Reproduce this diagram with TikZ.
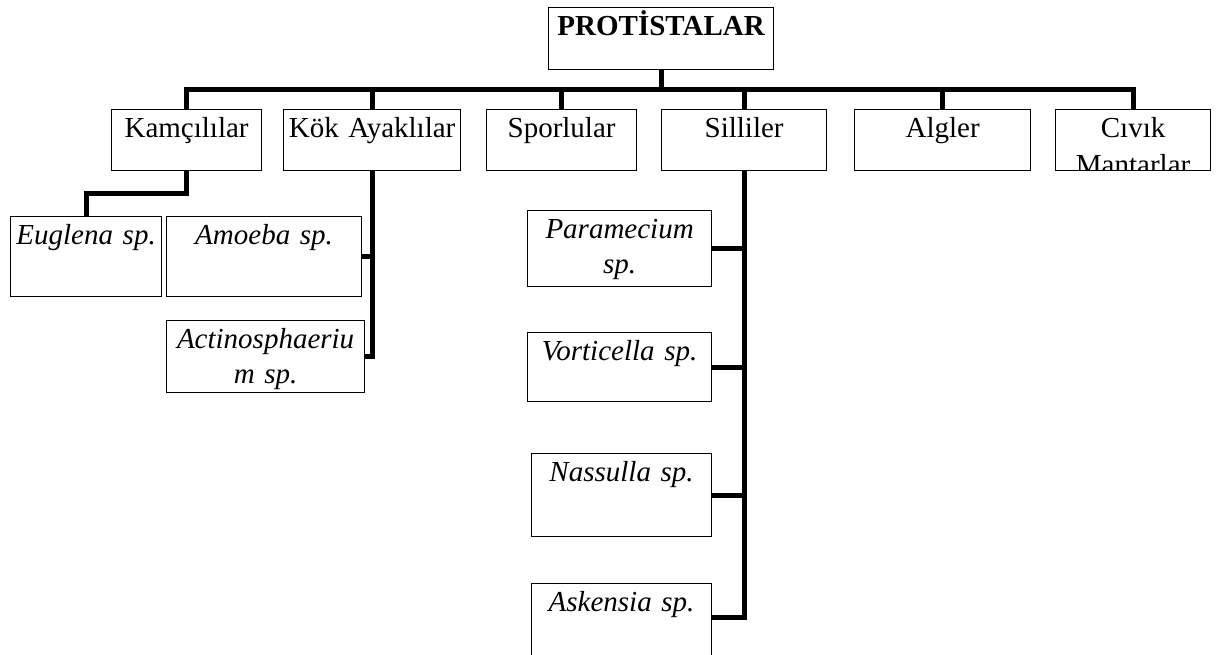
\documentclass[tikz,border=0pt]{standalone}
\usepackage{fontspec}
\setmainfont{Liberation Serif}
\usetikzlibrary{positioning}

\begin{document}
\begin{tikzpicture}[x=0.5pt, y=-0.5pt,
  font=\fontsize{14.5pt}{17.3pt}\selectfont,
  kutu/.style={rectangle,draw,line width=0.6pt,anchor=north west,align=center,
               inner xsep=0pt,inner ysep=0pt,text height=14pt},
  grup/.style={kutu,text depth=16.5pt},
  tur/.style={kutu,font=\fontsize{14.5pt}{17.3pt}\selectfont\itshape},
  bag/.style={line width=2.5pt,line join=miter}]

  \useasboundingbox (0,0) rectangle (1216,654);
  \clip (0,0) rectangle (1216,654);

  % --- kök ---
  \node[kutu,font=\fontsize{14.5pt}{17.3pt}\selectfont\bfseries,
        text width=112.5pt,text depth=17pt] (prot) at (548,7) {PROTİSTALAR};

  % --- gruplar ---
  \node[grup,text width=75pt]   (kamci) at (111,109)  {Kamçılılar};
  \node[grup,text width=88.5pt] (kok)   at (283,109)  {Kök Ayaklılar};
  \node[grup,text width=75pt]   (spor)  at (486,109)  {Sporlular};
  \node[grup,text width=82.5pt] (silli) at (661,109)  {Silliler};
  \node[grup,text width=88pt]   (alg)   at (854,109)  {Algler};
  \begin{scope}
    % ikinci satır kutunun altında kesiliyor
    \clip (1040,100) rectangle (1216,170.6);
    \node[grup,text width=77.5pt,font=\fontsize{14.5pt}{18.5pt}\selectfont]
          (civik) at (1055,109) {Cıvık\\Mantarlar};
  \end{scope}

  \coordinate (catal) at (0,89);
  \draw[bag] (prot.south) -- (prot.south |- catal);
  \draw[bag] (kamci.north) -- (kamci.north |- catal) -- (civik.north |- catal) -- (civik.north);
  \foreach \n in {kok,spor,silli,alg} \draw[bag] (\n.north) -- (\n.north |- catal);

  % --- türler ---
  \node[tur,text width=75.5pt,text depth=26pt] (eug)    at (10,216)  {Euglena sp.};
  \node[tur,text width=97.5pt,text depth=26pt] (amip)   at (166,216) {Amoeba sp.};
  \node[tur,text width=99pt,text depth=22pt]   (aktino) at (166,320) {Actinosphaeriu\\m sp.};

  \node[tur,text width=92pt,text depth=24pt]   (param)  at (527,210) {Paramecium\\sp.};
  \node[tur,text width=92pt,text depth=20.5pt] (vort)   at (527,332) {Vorticella sp.};
  \node[tur,text width=90pt,text depth=27.5pt] (nass)   at (531,453) {Nassulla sp.};
  \node[tur,text width=90pt,text depth=24.5pt] (asken)  at (531,583) {Askensia sp.};

  \draw[bag] (kamci.south) -- ++(0,22) -| (eug.north);
  \foreach \n in {amip,aktino} \draw[bag] (kok.south) |- (\n.east);
  \foreach \n in {param,vort,nass} \draw[bag] (silli.south) |- (\n.east);
  \draw[bag] (silli.south) |- ([yshift=2.25pt]asken.east);
\end{tikzpicture}
\end{document}
